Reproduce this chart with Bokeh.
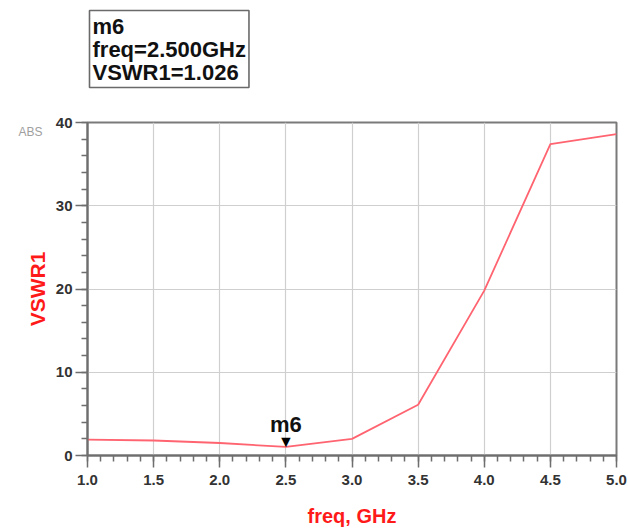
from bokeh.plotting import figure
from bokeh.layouts import column
from bokeh.models import Range1d, Label, FixedTicker, LinearAxis, ColumnDataSource
from bokeh.core.properties import value
from bokeh.embed import file_html
from bokeh.resources import INLINE

# VSWR sweep
freq_ghz = [1.0, 1.5, 2.0, 2.5, 3.0, 3.5, 4.0, 4.5, 5.0]
vswr1 = [1.9, 1.8, 1.5, 1.026, 2.0, 6.1, 19.8, 37.4, 38.6]

# marker m6
marker_name = "m6"
marker_freq = 2.5
marker_vswr = 1.026

x_ticks = [1.0, 1.5, 2.0, 2.5, 3.0, 3.5, 4.0, 4.5, 5.0]
y_ticks = [0, 10, 20, 30, 40]

FONT = "Liberation Sans"
W = 628
HEAD_H = 112
LEFT, RIGHT = 87, 12

# ---- header strip holding the marker readout box ----
# its frame lines up with the main plot's frame, so the x range spans the same pixels
head = figure(width=W, height=HEAD_H, output_backend="svg", toolbar_location=None,
              x_range=Range1d(LEFT, W - RIGHT), y_range=Range1d(HEAD_H, 0),
              x_axis_location=None, y_axis_location=None,
              min_border=0, outline_line_color=None)
head.grid.visible = False
head.background_fill_color = "white"
head.border_fill_color = "white"

readout = f"{marker_name}\nfreq={marker_freq:.3f}GHz\nVSWR1={marker_vswr:.3f}"
head.add_layout(Label(x=LEFT + 2, y=10, text=readout, text_font=FONT, text_font_style="bold",
                      text_font_size="22px", text_color="#111111",
                      text_align="left", text_baseline="top", text_line_height=0.92,
                      border_line_color="#6a6a6a", border_line_width=1.6,
                      background_fill_color="white", padding=3))

# ---- main plot ----
p = figure(width=W, height=529 - HEAD_H, output_backend="svg", toolbar_location=None,
           x_range=Range1d(1.0, 5.0), y_range=Range1d(0, 40),
           min_border_left=LEFT, min_border_right=RIGHT, min_border_top=10, min_border_bottom=74)

p.outline_line_color = "#7a7a7a"
p.outline_line_width = 2
p.background_fill_color = "white"
p.border_fill_color = "white"

p.xaxis.ticker = FixedTicker(ticks=x_ticks, minor_ticks=[round(1.0 + 0.1 * i, 2) for i in range(41)])
p.yaxis.ticker = FixedTicker(ticks=y_ticks, minor_ticks=list(range(0, 41, 2)))
p.xaxis.major_label_overrides = {t: f"{t:.1f}" for t in x_ticks}

for ax in (p.xaxis, p.yaxis):
    ax.axis_line_color = "#6e6e6e"
    ax.axis_line_width = 2
    ax.major_tick_line_color = "#6e6e6e"
    ax.minor_tick_line_color = "#6e6e6e"
    ax.major_tick_line_width = 1.5
    ax.minor_tick_line_width = 1.5
    ax.major_tick_out = 12
    ax.major_tick_in = 0
    ax.minor_tick_out = 6
    ax.minor_tick_in = 0
    ax.major_label_text_font = FONT
    ax.major_label_text_font_style = "bold"
    ax.major_label_text_font_size = "15px"
    ax.major_label_text_color = "#333333"
    ax.axis_label_text_font = FONT
    ax.axis_label_text_font_style = "bold"
    ax.axis_label_text_color = "#ff1a1a"

p.xaxis.axis_label = "freq, GHz"
p.yaxis.axis_label = "VSWR1"
p.xaxis.axis_label_text_font_size = "20px"
p.yaxis.axis_label_text_font_size = "21px"
p.xaxis.axis_label_standoff = 17
p.yaxis.axis_label_standoff = 4
p.xaxis.major_label_standoff = 7
p.yaxis.major_label_standoff = 3

# small scale tag to the left of the top of the y axis
abs_axis = LinearAxis(ticker=FixedTicker(ticks=[38.8], minor_ticks=[]),
                      major_label_overrides={38.8: "ABS"},
                      axis_line_color=None, major_tick_line_color=None, minor_tick_line_color=None,
                      major_label_text_font=FONT, major_label_text_font_size="12px",
                      major_label_text_color="#a0a0a0", major_label_standoff=-26)
p.add_layout(abs_axis, "left")

p.xgrid.grid_line_color = "#cfcfcf"
p.ygrid.grid_line_color = "#cfcfcf"
p.xgrid.grid_line_width = 1.2
p.ygrid.grid_line_width = 1.2

src = ColumnDataSource(dict(x=freq_ghz, y=vswr1))
p.line("x", "y", source=src, line_color="#ff6470", line_width=1.8)

# marker triangle and name
msrc = ColumnDataSource(dict(x=[marker_freq], y=[marker_vswr], tri=["\u25bc"], name=[marker_name]))
p.text("x", "y", text="tri", source=msrc, text_align="center", text_baseline="bottom",
       text_font_size="16px", text_color="black", y_offset=3)
p.text("x", "y", text="name", source=msrc, text_align="center", text_baseline="bottom",
       text_font=value(FONT), text_font_style="bold", text_font_size="22px",
       text_color="#111111", y_offset=-10)

layout = column(head, p, spacing=0)
open("out.html", "w").write(file_html(layout, INLINE))
